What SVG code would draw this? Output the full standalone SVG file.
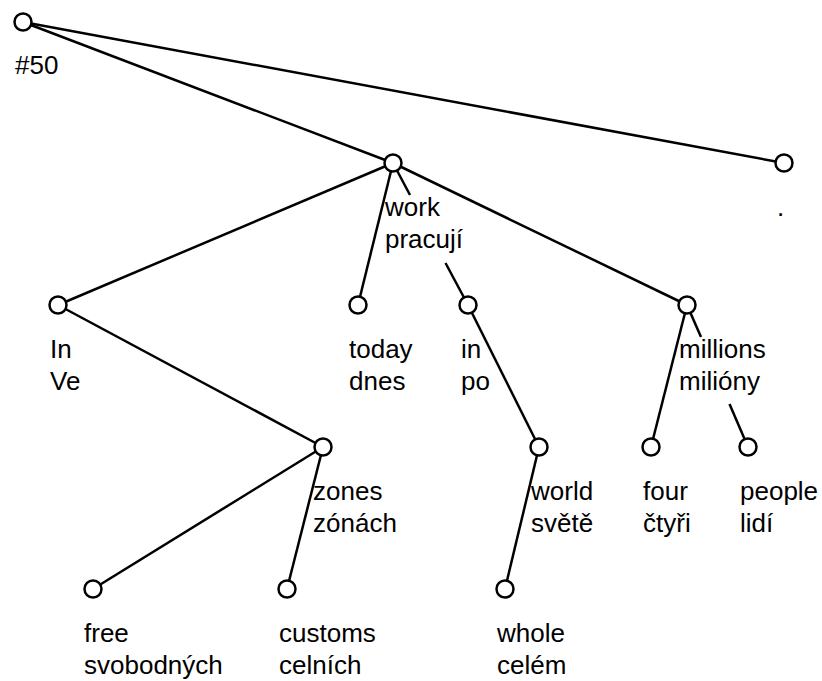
<svg xmlns="http://www.w3.org/2000/svg" width="822" height="681" viewBox="0 0 822 681">
<style>
.e{stroke:#000;stroke-width:2.5;fill:none;stroke-linecap:butt}
.n{fill:#fff;stroke:#000;stroke-width:2.5}
text{font-family:"Liberation Sans",Arial,sans-serif;font-size:26px;fill:#000}
</style>
<rect width="822" height="681" fill="#fff"/>
<g id="connectors">
<line class="e" x1="23" y1="22" x2="393" y2="163"/>
<line class="e" x1="23" y1="22" x2="784" y2="163"/>
<line class="e" x1="393" y1="163" x2="58" y2="305"/>
<line class="e" x1="393" y1="163" x2="358" y2="305"/>
<line class="e" x1="393" y1="163" x2="410" y2="195"/>
<line class="e" x1="445.5" y1="263" x2="468" y2="305"/>
<line class="e" x1="393" y1="163" x2="687" y2="305"/>
<line class="e" x1="58" y1="305" x2="323" y2="447"/>
<line class="e" x1="323" y1="447" x2="93" y2="589"/>
<line class="e" x1="323" y1="447" x2="287" y2="589"/>
<line class="e" x1="468" y1="305" x2="539" y2="447"/>
<line class="e" x1="539" y1="447" x2="505" y2="589"/>
<line class="e" x1="687" y1="305" x2="651" y2="447"/>
<line class="e" x1="687" y1="305" x2="701" y2="337"/>
<line class="e" x1="729.5" y1="404" x2="748" y2="447"/>
</g>
<g id="n-root"><circle class="n" cx="23" cy="22" r="8.5"/><text x="15" y="74">#50</text></g>
<g id="n-work"><circle class="n" cx="393" cy="163" r="8.5"/><text x="385" y="215.5">work</text><text x="385" y="248">pracují</text></g>
<g id="n-period"><circle class="n" cx="784" cy="163" r="8.5"/><text x="777" y="215.5">.</text></g>
<g id="n-in-ve"><circle class="n" cx="58" cy="305" r="8.5"/><text x="50" y="357.5">In</text><text x="50" y="390">Ve</text></g>
<g id="n-today"><circle class="n" cx="358" cy="305" r="8.5"/><text x="349" y="357.5">today</text><text x="349" y="390">dnes</text></g>
<g id="n-in-po"><circle class="n" cx="468" cy="305" r="8.5"/><text x="461" y="357.5">in</text><text x="461" y="390">po</text></g>
<g id="n-millions"><circle class="n" cx="687" cy="305" r="8.5"/><text x="679" y="357.5">millions</text><text x="679" y="390">milióny</text></g>
<g id="n-zones"><circle class="n" cx="323" cy="447" r="8.5"/><text x="313" y="499.5">zones</text><text x="313" y="532">zónách</text></g>
<g id="n-world"><circle class="n" cx="539" cy="447" r="8.5"/><text x="531" y="499.5">world</text><text x="531" y="532">světě</text></g>
<g id="n-four"><circle class="n" cx="651" cy="447" r="8.5"/><text x="643" y="499.5">four</text><text x="643" y="532">čtyři</text></g>
<g id="n-people"><circle class="n" cx="748" cy="447" r="8.5"/><text x="740" y="499.5">people</text><text x="740" y="532">lidí</text></g>
<g id="n-free"><circle class="n" cx="93" cy="589" r="8.5"/><text x="84" y="641.5">free</text><text x="84" y="674">svobodných</text></g>
<g id="n-customs"><circle class="n" cx="287" cy="589" r="8.5"/><text x="279" y="641.5">customs</text><text x="279" y="674">celních</text></g>
<g id="n-whole"><circle class="n" cx="505" cy="589" r="8.5"/><text x="497" y="641.5">whole</text><text x="497" y="674">celém</text></g>
</svg>
